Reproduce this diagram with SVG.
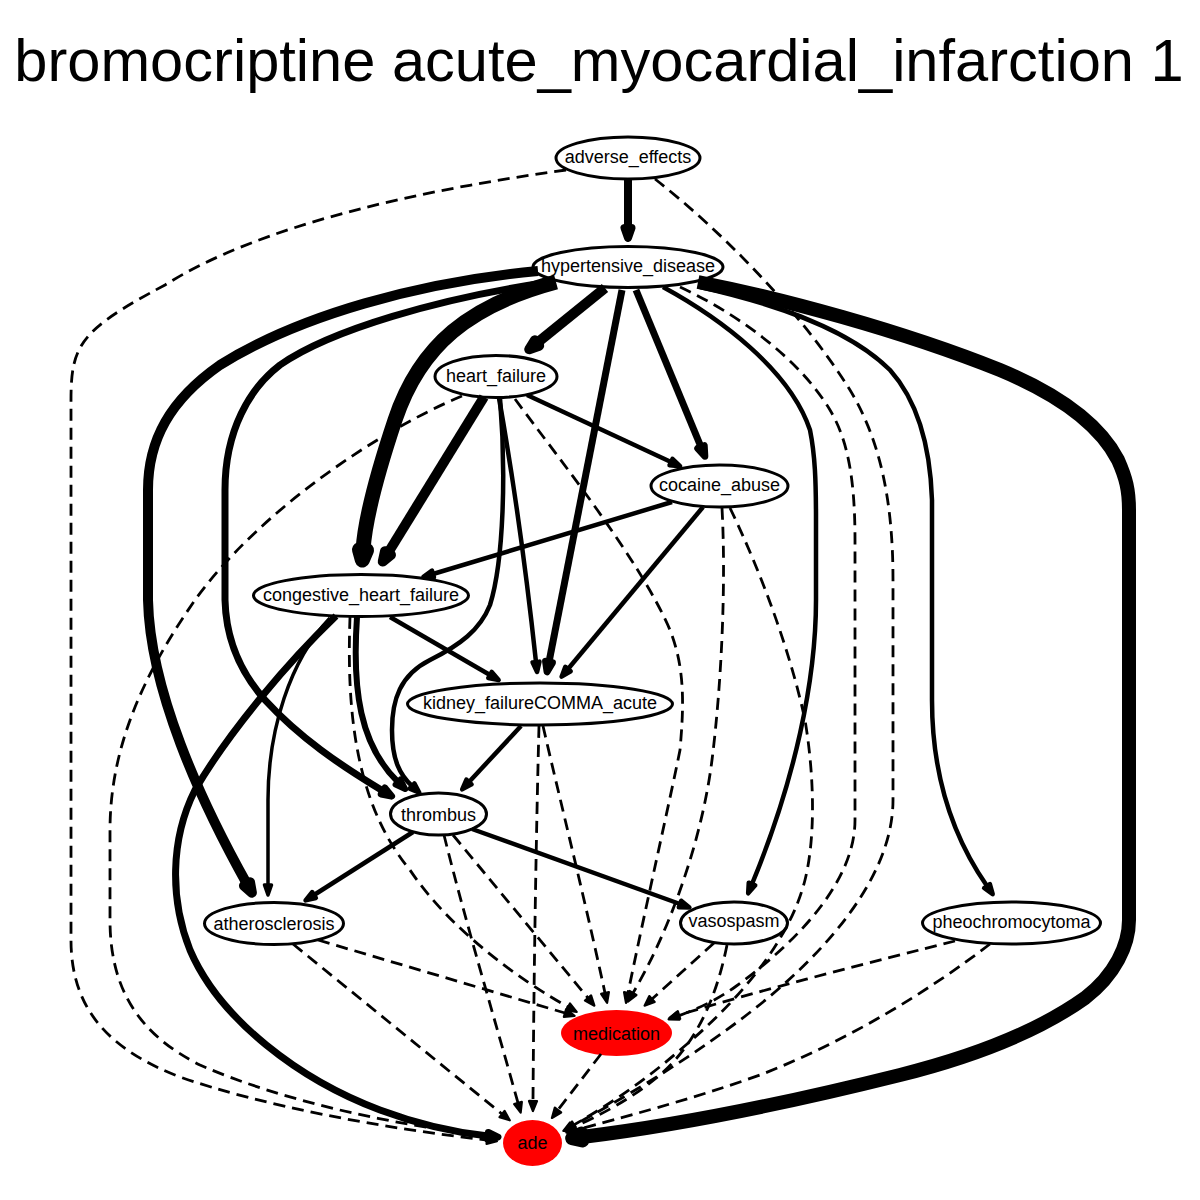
<svg xmlns="http://www.w3.org/2000/svg" width="1200" height="1200" viewBox="0 0 1200 1200">
<style>
.title{font-family:"Liberation Sans",Arial,sans-serif;font-size:59.6px;fill:#000}
.lbl{font-family:"Liberation Sans",Arial,sans-serif;font-size:18px;fill:#000;text-anchor:middle}
.node{fill:#fff;stroke:#000;stroke-width:3}
.red{fill:#ff0000;stroke:none}
.e{fill:none;stroke:#000;stroke-linecap:butt;stroke-linejoin:round}
.d{fill:none;stroke:#000;stroke-width:2.8;stroke-dasharray:12,7}
.w3{stroke-width:3.5}.w4{stroke-width:4.5}.w6{stroke-width:6}.w7{stroke-width:7}.w8{stroke-width:8}.w10{stroke-width:10}.w14{stroke-width:14}.w15{stroke-width:15}
</style>
<defs>
<marker id="ad" markerUnits="userSpaceOnUse" orient="auto" refX="0" refY="0" markerWidth="1" markerHeight="1" overflow="visible"><path d="M0,-4 L10,0 L0,4 Z" fill="#000" stroke="#000" stroke-width="2.2" stroke-linejoin="round"/></marker>
<marker id="a3" markerUnits="userSpaceOnUse" orient="auto" refX="0" refY="0" markerWidth="1" markerHeight="1" overflow="visible"><path d="M0,-3.5 L10,0 L0,3.5 Z" fill="#000" stroke="#000" stroke-width="3.5" stroke-linejoin="round"/></marker>
<marker id="a4" markerUnits="userSpaceOnUse" orient="auto" refX="0" refY="0" markerWidth="1" markerHeight="1" overflow="visible"><path d="M0,-3.5 L10,0 L0,3.5 Z" fill="#000" stroke="#000" stroke-width="4.5" stroke-linejoin="round"/></marker>
<marker id="a6" markerUnits="userSpaceOnUse" orient="auto" refX="0" refY="0" markerWidth="1" markerHeight="1" overflow="visible"><path d="M0,-3.5 L10,0 L0,3.5 Z" fill="#000" stroke="#000" stroke-width="6" stroke-linejoin="round"/></marker>
<marker id="a7" markerUnits="userSpaceOnUse" orient="auto" refX="0" refY="0" markerWidth="1" markerHeight="1" overflow="visible"><path d="M0,-3.5 L10,0 L0,3.5 Z" fill="#000" stroke="#000" stroke-width="7" stroke-linejoin="round"/></marker>
<marker id="a8" markerUnits="userSpaceOnUse" orient="auto" refX="0" refY="0" markerWidth="1" markerHeight="1" overflow="visible"><path d="M0,-3.5 L10,0 L0,3.5 Z" fill="#000" stroke="#000" stroke-width="8" stroke-linejoin="round"/></marker>
<marker id="a10" markerUnits="userSpaceOnUse" orient="auto" refX="0" refY="0" markerWidth="1" markerHeight="1" overflow="visible"><path d="M0,-3.5 L10,0 L0,3.5 Z" fill="#000" stroke="#000" stroke-width="10" stroke-linejoin="round"/></marker>
<marker id="a14" markerUnits="userSpaceOnUse" orient="auto" refX="0" refY="0" markerWidth="1" markerHeight="1" overflow="visible"><path d="M0,-3.5 L10,0 L0,3.5 Z" fill="#000" stroke="#000" stroke-width="14" stroke-linejoin="round"/></marker>
<marker id="a15" markerUnits="userSpaceOnUse" orient="auto" refX="0" refY="0" markerWidth="1" markerHeight="1" overflow="visible"><path d="M0,-3.5 L10,0 L0,3.5 Z" fill="#000" stroke="#000" stroke-width="15" stroke-linejoin="round"/></marker>
</defs>
<rect width="1200" height="1200" fill="#fff"/>
<text class="title" x="599" y="81" text-anchor="middle">bromocriptine acute_myocardial_infarction 1</text>

<g id="nodes">
<g id="adverse_effects"><ellipse class="node" cx="628" cy="158" rx="72" ry="21"/><text class="lbl" x="628" y="163">adverse_effects</text></g>
<g id="hypertensive_disease"><ellipse class="node" cx="628" cy="267" rx="95" ry="20.5"/><text class="lbl" x="628" y="272">hypertensive_disease</text></g>
<g id="heart_failure"><ellipse class="node" cx="496" cy="376.5" rx="61" ry="21"/><text class="lbl" x="496" y="381.5">heart_failure</text></g>
<g id="cocaine_abuse"><ellipse class="node" cx="719.5" cy="486" rx="68.5" ry="21"/><text class="lbl" x="719.5" y="491">cocaine_abuse</text></g>
<g id="congestive_heart_failure"><ellipse class="node" cx="361" cy="595.5" rx="107.5" ry="21"/><text class="lbl" x="361" y="600.5">congestive_heart_failure</text></g>
<g id="kidney_failureCOMMA_acute"><ellipse class="node" cx="540" cy="704" rx="132.5" ry="21"/><text class="lbl" x="540" y="709">kidney_failureCOMMA_acute</text></g>
<g id="thrombus"><ellipse class="node" cx="438.5" cy="814" rx="48" ry="21"/><text class="lbl" x="438.5" y="821">thrombus</text></g>
<g id="atherosclerosis"><ellipse class="node" cx="274" cy="923.5" rx="69.5" ry="21"/><text class="lbl" x="274" y="930">atherosclerosis</text></g>
<g id="vasospasm"><ellipse class="node" cx="734" cy="923" rx="53.5" ry="21"/><text class="lbl" x="734" y="927">vasospasm</text></g>
<g id="pheochromocytoma"><ellipse class="node" cx="1011.5" cy="923" rx="89" ry="21"/><text class="lbl" x="1011.5" y="928">pheochromocytoma</text></g>
<g id="medication"><ellipse class="red" cx="616.5" cy="1033" rx="55.5" ry="23"/><text class="lbl" x="616.5" y="1040">medication</text></g>
<g id="ade"><ellipse class="red" cx="532.5" cy="1143" rx="29.5" ry="23"/><text class="lbl" x="532.5" y="1149">ade</text></g>
</g>

<g id="edges">
<path class="e w8" marker-end="url(#a8)" d="M628,180 L628,228"/>
<path class="e w10" marker-end="url(#a10)" d="M605,288 L537,343"/>
<path class="e w15" marker-end="url(#a15)" d="M556,282 C470,305 420,345 395,420 C375,480 365,520 363,550"/>
<path class="e w10" marker-end="url(#a10)" d="M538,271 C420,282 300,315 220,365 C170,400 148,440 148,490 L148,600 C150,690 200,800 247,884"/>
<path class="e w7" marker-end="url(#a7)" d="M550,282 C440,298 330,330 280,365 C250,388 225,430 225,490 L225,600 C226,640 240,672 265,700 C300,738 340,765 383,791"/>
<path class="e w7" marker-end="url(#a7)" d="M622,290 L549,662"/>
<path class="e w7" marker-end="url(#a7)" d="M636,290 L701,447"/>
<path class="e w4" marker-end="url(#a4)" d="M663,287 C720,318 790,370 810,430 C815,455 816,480 816,520 L816,600 C816,680 795,780 752,884"/>
<path class="e w4" marker-end="url(#a4)" d="M700,287 C780,305 850,330 890,370 C915,398 930,440 932,500 L932,700 C932,780 955,840 987,886"/>
<path class="e w14" marker-end="url(#a14)" d="M698,282 C780,298 900,330 1000,370 C1060,395 1100,425 1118,460 C1126,478 1129,490 1129,510 L1129,920 C1129,945 1115,975 1085,998 C1040,1030 980,1055 900,1075 C800,1100 680,1125 582,1137"/>
<path class="e w4" marker-end="url(#a4)" d="M472,829 L680,904"/>
<path class="e w4" marker-end="url(#a4)" d="M413,832 L314,895"/>
<path class="e w4" marker-end="url(#a4)" d="M390,617 L490,675"/>
<path class="e w6" marker-end="url(#a6)" d="M357,617 C352,690 360,745 398,782"/>
<path class="e w3" marker-end="url(#a3)" d="M330,618 C290,660 268,730 268,800 L268,885"/>
<path class="e w7" marker-end="url(#a7)" d="M336,616 C290,660 230,730 195,790 C170,840 170,900 190,950 C220,1020 300,1080 380,1110 C420,1125 460,1133 488,1136"/>
<path class="e w10" marker-end="url(#a10)" d="M484,397 L388,553"/>
<path class="e w4" marker-end="url(#a4)" d="M499,398 C510,460 525,560 536,662"/>
<path class="e w4" marker-end="url(#a4)" d="M500,398 C506,470 504,560 490,605 C480,630 460,645 430,660 C400,675 392,700 392,730 C392,760 400,775 412,786"/>
<path class="e w4" marker-end="url(#a4)" d="M527,395 L671,462"/>
<path class="e w4" marker-end="url(#a4)" d="M672,502 L433,574"/>
<path class="e w4" marker-end="url(#a4)" d="M703,507 L568,669"/>
<path class="e w4" marker-end="url(#a4)" d="M521,726 L469,782"/>
<path class="d" marker-end="url(#ad)" d="M566,170 C420,190 260,225 165,285 C80,330 71,345 71,400 L71,940 C71,1010 110,1050 180,1077 C260,1105 380,1128 487,1140"/>
<path class="d" marker-end="url(#ad)" d="M462,396 C380,430 260,510 195,600 C150,665 110,740 110,830 L110,920 C110,990 140,1035 200,1065 C280,1100 390,1125 487,1135"/>
<path class="d" marker-end="url(#ad)" d="M515,399 C560,460 640,560 670,630 C685,668 684,705 680,750 C670,800 645,910 628,993"/>
<path class="d" marker-end="url(#ad)" d="M722,508 C726,580 722,680 712,760 C702,840 670,930 633,993"/>
<path class="d" marker-end="url(#ad)" d="M730,508 C760,570 790,650 805,720 C815,780 815,840 805,880 C790,940 740,1000 680,1050 C640,1085 600,1110 572,1126"/>
<path class="d" marker-end="url(#ad)" d="M655,179 C720,230 800,310 850,390 C880,440 893,500 893,580 L893,800 C893,880 820,960 740,1020 C680,1065 620,1100 574,1125"/>
<path class="d" marker-end="url(#ad)" d="M680,287 C740,315 800,360 830,410 C848,440 855,480 855,540 L855,820 C855,880 800,940 735,987 C715,1001 695,1010 678,1016"/>
<path class="d" marker-end="url(#ad)" d="M955,941 C880,960 760,990 679,1015"/>
<path class="d" marker-end="url(#ad)" d="M990,944 C930,990 850,1040 760,1075 C690,1100 620,1118 576,1130"/>
<path class="d" marker-end="url(#ad)" d="M714,943 L652,999"/>
<path class="d" marker-end="url(#ad)" d="M727,945 C718,990 700,1040 660,1075 C630,1100 600,1115 574,1127"/>
<path class="d" marker-end="url(#ad)" d="M444,835 C465,920 495,1020 518,1103"/>
<path class="d" marker-end="url(#ad)" d="M453,835 L588,998"/>
<path class="d" marker-end="url(#ad)" d="M350,617 C347,700 352,800 410,870 C450,930 520,980 568,1007"/>
<path class="d" marker-end="url(#ad)" d="M539,726 C537,800 534,950 533,1101"/>
<path class="d" marker-end="url(#ad)" d="M543,726 C560,800 585,900 605,993"/>
<path class="d" marker-end="url(#ad)" d="M318,940 L565,1013"/>
<path class="d" marker-end="url(#ad)" d="M293,944 L502,1114"/>
<path class="d" marker-end="url(#ad)" d="M601,1054 L558,1110"/>
</g>
</svg>
